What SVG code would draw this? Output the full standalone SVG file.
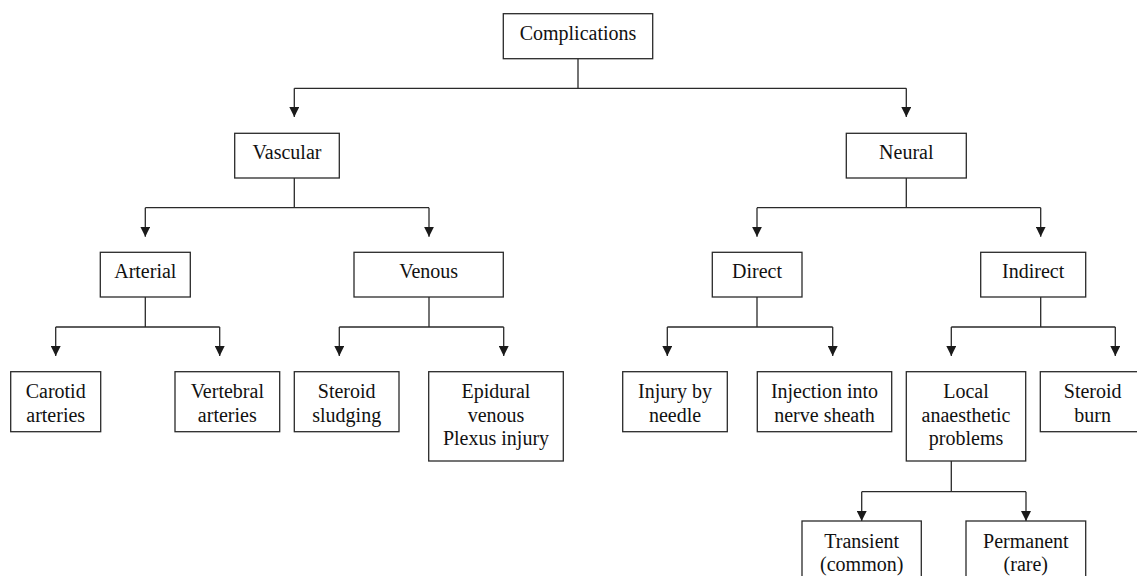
<svg xmlns="http://www.w3.org/2000/svg" width="1137" height="576" viewBox="0 0 1137 576">
<style>
  .box { fill: #ffffff; stroke: #2a2a2a; stroke-width: 1.3; }
  .t { font-family: "Liberation Serif", "Times New Roman", serif; font-size: 20px; fill: #111; text-anchor: middle; }
  .c { fill: none; stroke: #2a2a2a; stroke-width: 1.3; }
  .a { fill: none; stroke: #2a2a2a; stroke-width: 1.3; marker-end: url(#arr); }
</style>
<defs>
  <marker id="arr" markerUnits="userSpaceOnUse" markerWidth="10" markerHeight="10" viewBox="0 0 9 9" refX="9" refY="4.5" orient="auto">
    <path d="M0,0 L9,4.5 L0,9 z" fill="#1a1a1a"/>
  </marker>
</defs>
<rect width="1137" height="576" fill="#ffffff"/>

<g id="connectors">
  <path class="c" d="M578,58.7 V88.3 M294.3,88.3 H906.3"/>
  <path class="a" d="M294.3,88.3 V117"/>
  <path class="a" d="M906.3,88.3 V117"/>

  <path class="c" d="M294.3,178 V207.7 M145.3,207.7 H429"/>
  <path class="a" d="M145.3,207.7 V236.7"/>
  <path class="a" d="M429,207.7 V236.7"/>

  <path class="c" d="M906.3,178 V207.7 M757,207.7 H1040.7"/>
  <path class="a" d="M757,207.7 V236.7"/>
  <path class="a" d="M1040.7,207.7 V236.7"/>

  <path class="c" d="M145.3,297 V327 M55.7,327 H219.7"/>
  <path class="a" d="M55.7,327 V356"/>
  <path class="a" d="M219.7,327 V356"/>

  <path class="c" d="M429,297 V327 M339.3,327 H503.7"/>
  <path class="a" d="M339.3,327 V356"/>
  <path class="a" d="M503.7,327 V356"/>

  <path class="c" d="M757,297 V327 M667.3,327 H832.7"/>
  <path class="a" d="M667.3,327 V356"/>
  <path class="a" d="M832.7,327 V356"/>

  <path class="c" d="M1040.7,297 V327 M951.3,327 H1115.3"/>
  <path class="a" d="M951.3,327 V356"/>
  <path class="a" d="M1115.3,327 V356"/>

  <path class="c" d="M951.3,461 V491.7 M861.7,491.7 H1026"/>
  <path class="a" d="M861.7,491.7 V521"/>
  <path class="a" d="M1026,491.7 V521"/>
</g>

<g id="complications">
  <rect class="box" x="503.3" y="13.7" width="149.4" height="45"/>
  <text class="t" x="578" y="40">Complications</text>
</g>
<g id="vascular">
  <rect class="box" x="234.7" y="133.3" width="104.6" height="44.7"/>
  <text class="t" x="287" y="159.3">Vascular</text>
</g>
<g id="neural">
  <rect class="box" x="846.3" y="133.3" width="120" height="44.7"/>
  <text class="t" x="906.3" y="159.3">Neural</text>
</g>
<g id="arterial">
  <rect class="box" x="100.3" y="252.3" width="90" height="44.7"/>
  <text class="t" x="145.3" y="278.3">Arterial</text>
</g>
<g id="venous">
  <rect class="box" x="354" y="252.3" width="149.3" height="44.7"/>
  <text class="t" x="428.7" y="278.3">Venous</text>
</g>
<g id="direct">
  <rect class="box" x="712.3" y="252.3" width="89.7" height="44.7"/>
  <text class="t" x="757" y="278.3">Direct</text>
</g>
<g id="indirect">
  <rect class="box" x="980.7" y="252.3" width="105" height="44.7"/>
  <text class="t" x="1033.2" y="278.3">Indirect</text>
</g>
<g id="carotid">
  <rect class="box" x="10.7" y="371.7" width="90" height="60"/>
  <text class="t" x="55.7" y="398.3">Carotid</text>
  <text class="t" x="55.7" y="422">arteries</text>
</g>
<g id="vertebral">
  <rect class="box" x="175" y="371.7" width="104.7" height="60"/>
  <text class="t" x="227.3" y="398.3">Vertebral</text>
  <text class="t" x="227.3" y="422">arteries</text>
</g>
<g id="steroid-sludging">
  <rect class="box" x="294.3" y="371.7" width="104.7" height="60"/>
  <text class="t" x="346.7" y="398.3">Steroid</text>
  <text class="t" x="346.7" y="422">sludging</text>
</g>
<g id="epidural">
  <rect class="box" x="428.7" y="371.7" width="134.6" height="89.3"/>
  <text class="t" x="496" y="398.3">Epidural</text>
  <text class="t" x="496" y="421.7">venous</text>
  <text class="t" x="496" y="445.3">Plexus injury</text>
</g>
<g id="injury-needle">
  <rect class="box" x="622.7" y="371.7" width="104.6" height="60"/>
  <text class="t" x="675" y="398.3">Injury by</text>
  <text class="t" x="675" y="422">needle</text>
</g>
<g id="injection">
  <rect class="box" x="757.3" y="371.7" width="134.4" height="60"/>
  <text class="t" x="824.5" y="398.3">Injection into</text>
  <text class="t" x="824.5" y="422">nerve sheath</text>
</g>
<g id="local">
  <rect class="box" x="906.3" y="371.7" width="119.4" height="89.3"/>
  <text class="t" x="966" y="398.3">Local</text>
  <text class="t" x="966" y="421.7">anaesthetic</text>
  <text class="t" x="966" y="445.3">problems</text>
</g>
<g id="steroid-burn">
  <rect class="box" x="1040.3" y="371.7" width="105" height="60"/>
  <text class="t" x="1092.7" y="398.3">Steroid</text>
  <text class="t" x="1092.7" y="422">burn</text>
</g>
<g id="transient">
  <rect class="box" x="802" y="521" width="119.3" height="70"/>
  <text class="t" x="861.7" y="547.7">Transient</text>
  <text class="t" x="861.7" y="571">(common)</text>
</g>
<g id="permanent">
  <rect class="box" x="966" y="521" width="119.7" height="70"/>
  <text class="t" x="1025.8" y="547.7">Permanent</text>
  <text class="t" x="1025.8" y="571">(rare)</text>
</g>
</svg>
